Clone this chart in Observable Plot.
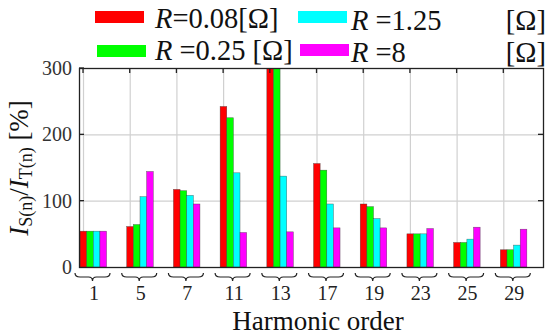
<!DOCTYPE html>
<html>
<head>
<meta charset="utf-8">
<script src="https://cdn.jsdelivr.net/npm/d3@7"></script>
<script src="https://cdn.jsdelivr.net/npm/@observablehq/plot@0.6"></script>
<style>
  html, body { margin: 0; padding: 0; background: #fff; }
  #chart { position: relative; width: 550px; height: 334px; overflow: hidden; }
  #chart svg { display: block; }
  .lbl { position: absolute; font-family: "Liberation Serif", "Times New Roman", serif; line-height: 1; white-space: pre; color: #111; }
</style>
</head>
<body>
<div id="chart"></div>
<script>
// Harmonic orders (x categories)
const harmonics = ["1", "5", "7", "11", "13", "17", "19", "23", "25", "29"];
// Series labels and colours
const seriesNames = ["R=0.08", "R=0.25", "R=1.25", "R=8"];
const seriesColors = ["#ff0000", "#00ff00", "#00ffff", "#ff00ff"];
// IS(n)/IT(n) [%] values (R=0.08 and R=0.25 at 13 exceed the 300 axis limit)
const r008 = [54, 61, 117, 242, 320, 156, 95, 50, 37, 26];
const r025 = [54, 64, 115, 225, 320, 146, 91, 50, 37, 26];
const r125 = [54, 106, 108, 142, 137, 95, 73, 50, 42, 33];
const r8   = [54, 144, 95, 52, 53, 59, 59, 58, 60, 57];
const yTicks = [0, 100, 200, 300];

(function () {
const seriesValues = [r008, r025, r125, r8];
const barStart = -0.064, barW = 0.142;
const data = [];
harmonics.forEach((h, i) => {
  seriesValues.forEach((vals, k) => {
    const x1 = i + 1 + barStart + k * barW;
    data.push({h, k, x1, x2: x1 + barW, v: vals[i], color: seriesColors[k]});
  });
});
const idx = harmonics.map((h, i) => i + 1);
const groupCenter = 0.214;

const chart = Plot.plot({
  width: 550,
  height: 334,
  marginTop: 68,
  marginBottom: 67,
  marginLeft: 79,
  marginRight: 7,
  style: {background: "#fff"},
  x: {domain: [0.914, 10.85], axis: null},
  y: {domain: [0, 300], ticks: yTicks, axis: null},
  marks: [
    Plot.gridX(idx, {stroke: "#d0d0d0", strokeOpacity: 1, strokeWidth: 1.2}),
    Plot.gridY([100, 200], {stroke: "#d0d0d0", strokeOpacity: 1, strokeWidth: 1.2}),
    Plot.rect(data, {x1: "x1", x2: "x2", y1: 0, y2: "v", fill: "color", stroke: "#333", strokeWidth: 0.5, strokeOpacity: 0.7, clip: true}),
    Plot.frame({stroke: "#222", strokeWidth: 1.3})
  ]
});
const wrap = document.getElementById("chart");
wrap.appendChild(chart);

// decorations using the plot's own scales
const svg = d3.select(chart);
const xs = chart.scale("x"), ys = chart.scale("y");
const yTop = ys.apply(300), yBot = ys.apply(0), xLeft = xs.apply(0.914), xRight = xs.apply(10.85);
const g = svg.append("g").attr("stroke", "#222").attr("stroke-width", 1.3).attr("fill", "none");
idx.forEach(v => {
  const x = xs.apply(v);
  g.append("line").attr("x1", x).attr("x2", x).attr("y1", yTop).attr("y2", yTop + 5);
});
[100, 200, 300].forEach(v => {
  const y = ys.apply(v);
  g.append("line").attr("x1", xLeft).attr("x2", xLeft + 5).attr("y1", y).attr("y2", y);
  if (v < 300) g.append("line").attr("x1", xRight).attr("x2", xRight - 5).attr("y1", y).attr("y2", y);
});
// under-braces for each harmonic group
const bg = svg.append("g").attr("stroke", "#222").attr("stroke-width", 1.2).attr("fill", "none");
idx.forEach(v => {
  const c = xs.apply(v + groupCenter) - 0.5, w = 35, y0 = yBot + 6, hh = 4;
  const l = c - w / 2, r = c + w / 2;
  bg.append("path").attr("d",
    `M${l},${y0} Q${l},${y0 + hh} ${l + 5},${y0 + hh} L${c - 4},${y0 + hh} Q${c},${y0 + hh} ${c},${y0 + 2 * hh} ` +
    `Q${c},${y0 + hh} ${c + 4},${y0 + hh} L${r - 5},${y0 + hh} Q${r},${y0 + hh} ${r},${y0}`);
});
// legend swatches
const legendItems = [
  {k: 0, sx: 95, sy: 11, tx: 155, ty: 29, html: "<i>R</i>=0.08[Ω]"},
  {k: 1, sx: 97, sy: 45, tx: 155, ty: 61, html: "<i>R</i> =0.25 [Ω]"},
  {k: 2, sx: 298, sy: 11, tx: 351, ty: 31, html: "<i>R</i> =1.25", end: "[Ω]"},
  {k: 3, sx: 300, sy: 44, tx: 351, ty: 63, html: "<i>R</i> =8", end: "[Ω]"}
];
legendItems.forEach(it => {
  svg.append("rect").attr("x", it.sx).attr("y", it.sy).attr("width", 49).attr("height", 12).attr("fill", seriesColors[it.k]);
});

// text as real HTML text (serif font), positioned with the plot's scales
function addText(html, x, y, fs, transform, color) {
  const d = document.createElement("div");
  d.className = "lbl";
  d.style.left = x + "px";
  d.style.top = y + "px";
  d.style.fontSize = fs + "px";
  if (transform) d.style.transform = transform;
  if (color) d.style.color = color;
  d.innerHTML = html;
  wrap.appendChild(d);
  return d;
}
// y tick labels
yTicks.forEach(v => addText(String(v), xLeft - 7, ys.apply(v), 20, "translate(-100%,-50%)", "#333"));
// harmonic order labels
harmonics.forEach((h, i) => addText(h, xs.apply(i + 1 + groupCenter + 0.02), yBot + 26, 20, "translate(-50%,-50%)", "#222"));
// x-axis title
addText("Harmonic order", 318, 321, 27, "translate(-50%,-50%)");
// y-axis title
addText('<i>I</i><span style="font-size:18px;vertical-align:-4px">S(n)</span>/<i>I</i><span style="font-size:18px;vertical-align:-4px">T(n)</span> [%]',
  20, (yTop + yBot) / 2, 27, "translate(-50%,-50%) rotate(-90deg)");
// legend texts
const LFS = 28.5, asc = 0.8375;
legendItems.forEach(it => {
  addText(it.html, it.tx, it.ty - asc * LFS, LFS);
  if (it.end) addText(it.end, 546, it.ty - asc * LFS, LFS, "translate(-100%,0)");
});
})();
</script>
</body>
</html>
